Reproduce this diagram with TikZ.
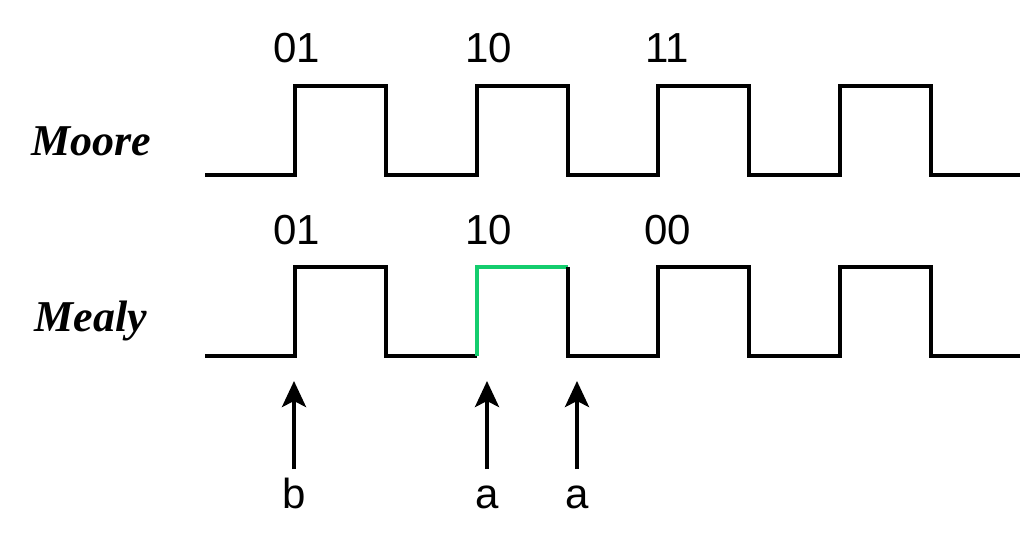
\documentclass[tikz,border=0pt]{standalone}
\usepackage{fontspec}
\setmainfont{Liberation Sans}
\newfontfamily\labelserif{Liberation Serif}
\usetikzlibrary{arrows.meta}
\definecolor{hilite}{RGB}{20,205,110}
\begin{document}
\begin{tikzpicture}[x=0.5pt,y=-0.5pt,
  wave/.style={line width=2pt,line join=miter,black},
  hiwave/.style={line width=2pt,line join=miter,hilite},
  code/.style={font=\fontsize{21}{24}\selectfont,inner sep=0pt},
  inputsym/.style={code,text height=15.3pt,text depth=0pt,anchor=base},
  machine/.style={font=\labelserif\bfseries\itshape\fontsize{22}{26}\selectfont,inner sep=0pt},
  event/.style={line width=2pt,shorten <=4pt,-{Stealth[length=13pt,width=12pt,inset=3pt]}}]
\useasboundingbox (0,0) rectangle (1024,537);

% machine names
\node[machine] (moore) at (91,141) {Moore};
\node[machine] (mealy) at (91,321) {Mealy};

% Moore output waveform
\draw[wave] (205,175) -- (295,175) -- (295,86) -- (386,86) -- (386,175)
  -- (477,175) -- (477,86) -- (568,86) -- (568,175)
  -- (658,175) -- (658,86) -- (749,86) -- (749,175)
  -- (840,175) -- (840,86) -- (931,86) -- (931,175) -- (1020,175);

% Mealy output waveform, with the highlighted pulse
\draw[wave] (205,356) -- (295,356) -- (295,267) -- (386,267) -- (386,356) -- (477,356);
\draw[hiwave] (477,356) -- (477,267) -- (568,267);
\draw[wave] (568,267) -- (568,356)
  -- (658,356) -- (658,267) -- (749,267) -- (749,356)
  -- (840,356) -- (840,267) -- (931,267) -- (931,356) -- (1020,356);

% state codes
\node[code] (m1) at (297,48) {01};
\node[code] (m2) at (489,48) {10};
\node[code] (m3) at (667,48) {11};
\node[code] (y1) at (297,230) {01};
\node[code] (y2) at (489,230) {10};
\node[code] (y3) at (668,230) {00};

% input events
\node[inputsym] (ib) at (294,508) {b};
\node[inputsym] (ia1) at (487,508) {a};
\node[inputsym] (ia2) at (577,508) {a};
\coordinate (tb) at (294,381);
\coordinate (ta1) at (487,381);
\coordinate (ta2) at (577,381);
\draw[event] (ib.north) -- (tb);
\draw[event] (ia1.north) -- (ta1);
\draw[event] (ia2.north) -- (ta2);
\end{tikzpicture}
\end{document}
